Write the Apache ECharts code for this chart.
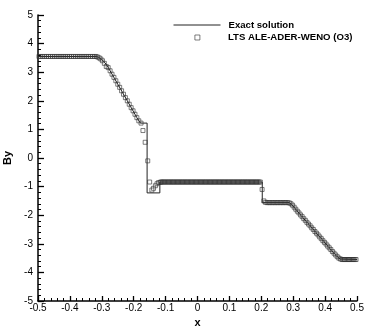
<!DOCTYPE html>
<html>
<head>
<meta charset="utf-8">
<script src="https://cdn.jsdelivr.net/npm/echarts@6/dist/echarts.min.js"></script>
<style>
html,body{margin:0;padding:0;background:#fff;}
#chart{width:374px;height:332px;}
</style>
</head>
<body>
<div id="chart"></div>
<script>
// Exact solution polyline (x, By)
var exactX = [-0.5, -0.318, -0.31, -0.30, -0.29, -0.28, -0.27, -0.26, -0.25, -0.24, -0.23, -0.22, -0.21, -0.20, -0.19, -0.179, -0.158, -0.158, -0.118, -0.118, 0.203, 0.203, 0.287, 0.295, 0.30, 0.31, 0.32, 0.33, 0.34, 0.35, 0.36, 0.37, 0.38, 0.39, 0.40, 0.41, 0.42, 0.43, 0.44, 0.447, 0.452, 0.5];
var exactY = [3.55, 3.55, 3.52, 3.44, 3.33, 3.17, 2.97, 2.78, 2.58, 2.39, 2.19, 2.00, 1.80, 1.61, 1.41, 1.22, 1.22, -1.22, -1.22, -0.84, -0.84, -1.56, -1.56, -1.62, -1.68, -1.82, -1.95, -2.08, -2.21, -2.33, -2.46, -2.59, -2.72, -2.84, -2.97, -3.10, -3.23, -3.36, -3.47, -3.53, -3.55, -3.55];

// Numerical solution (LTS ALE-ADER-WENO O3), cell centres
var numX = [
 -0.497, -0.491, -0.485, -0.479, -0.473, -0.467, -0.461, -0.455, -0.449, -0.443,
 -0.437, -0.431, -0.425, -0.419, -0.413, -0.407, -0.401, -0.395, -0.389, -0.383,
 -0.377, -0.371, -0.365, -0.359, -0.353, -0.347, -0.341, -0.335, -0.329, -0.323,
 -0.318, -0.313, -0.308, -0.303, -0.298, -0.292, -0.286, -0.280, -0.274, -0.268,
 -0.262, -0.256, -0.250, -0.244, -0.238, -0.232, -0.226, -0.220, -0.214, -0.208,
 -0.202, -0.196, -0.190, -0.184, -0.177, -0.171, -0.164, -0.156, -0.150, -0.143,
 -0.138, -0.132, -0.127, -0.122, -0.117, -0.114,
 -0.111, -0.107, -0.103, -0.099, -0.095, -0.091, -0.087, -0.083, -0.079, -0.075,
 -0.071, -0.067, -0.063, -0.059, -0.055, -0.051, -0.047, -0.043, -0.039, -0.035,
 -0.031, -0.027, -0.023, -0.019, -0.015, -0.011, -0.007, -0.003, 0.001, 0.005,
 0.009, 0.013, 0.017, 0.021, 0.025, 0.029, 0.033, 0.037, 0.041, 0.045,
 0.049, 0.053, 0.057, 0.061, 0.065, 0.069, 0.073, 0.077, 0.081, 0.085,
 0.089, 0.093, 0.097, 0.101, 0.105, 0.109, 0.113, 0.117, 0.121, 0.125,
 0.129, 0.133, 0.137, 0.141, 0.145, 0.149, 0.153, 0.157, 0.161, 0.165,
 0.169, 0.173, 0.177, 0.181, 0.185, 0.189, 0.193, 0.197,
 0.2025, 0.208, 0.213, 0.218, 0.223, 0.228, 0.233, 0.238, 0.243, 0.248,
 0.253, 0.258, 0.263, 0.268, 0.273, 0.278, 0.283,
 0.288, 0.293, 0.298, 0.303, 0.308, 0.313, 0.318, 0.323, 0.328, 0.333,
 0.338, 0.343, 0.348, 0.353, 0.358, 0.363, 0.368, 0.373, 0.378, 0.383,
 0.388, 0.393, 0.398, 0.403, 0.408, 0.413, 0.418, 0.423, 0.428, 0.433,
 0.438, 0.443, 0.448, 0.453,
 0.457, 0.461, 0.465, 0.469, 0.473, 0.477, 0.481, 0.485, 0.489, 0.493, 0.497
];
var numY = [
 3.55, 3.55, 3.55, 3.55, 3.55, 3.55, 3.55, 3.55, 3.55, 3.55,
 3.55, 3.55, 3.55, 3.55, 3.55, 3.55, 3.55, 3.55, 3.55, 3.55,
 3.55, 3.55, 3.55, 3.55, 3.55, 3.55, 3.55, 3.55, 3.55, 3.55,
 3.55, 3.53, 3.50, 3.46, 3.40, 3.31, 3.20, 3.16, 3.05, 2.93,
 2.82, 2.70, 2.58, 2.47, 2.35, 2.23, 2.11, 2.00, 1.88, 1.76,
 1.65, 1.53, 1.41, 1.30, 1.22, 0.96, 0.55, -0.10, -0.84, -1.12,
 -1.06, -0.97, -0.90, -0.86, -0.85, -0.84,
 -0.84, -0.84, -0.84, -0.84, -0.84, -0.84, -0.84, -0.84, -0.84, -0.84,
 -0.84, -0.84, -0.84, -0.84, -0.84, -0.84, -0.84, -0.84, -0.84, -0.84,
 -0.84, -0.84, -0.84, -0.84, -0.84, -0.84, -0.84, -0.84, -0.84, -0.84,
 -0.84, -0.84, -0.84, -0.84, -0.84, -0.84, -0.84, -0.84, -0.84, -0.84,
 -0.84, -0.84, -0.84, -0.84, -0.84, -0.84, -0.84, -0.84, -0.84, -0.84,
 -0.84, -0.84, -0.84, -0.84, -0.84, -0.84, -0.84, -0.84, -0.84, -0.84,
 -0.84, -0.84, -0.84, -0.84, -0.84, -0.84, -0.84, -0.84, -0.84, -0.84,
 -0.84, -0.84, -0.84, -0.84, -0.84, -0.84, -0.84, -0.84,
 -1.10, -1.50, -1.55, -1.56, -1.56, -1.56, -1.56, -1.56, -1.56, -1.56,
 -1.56, -1.56, -1.56, -1.56, -1.56, -1.56, -1.56,
 -1.57, -1.60, -1.65, -1.72, -1.79, -1.86, -1.92, -1.99, -2.05, -2.12,
 -2.18, -2.25, -2.31, -2.37, -2.44, -2.50, -2.57, -2.63, -2.69, -2.76,
 -2.82, -2.89, -2.95, -3.01, -3.08, -3.14, -3.20, -3.27, -3.33, -3.39,
 -3.45, -3.50, -3.53, -3.55,
 -3.55, -3.55, -3.55, -3.55, -3.55, -3.55, -3.55, -3.55, -3.55, -3.55, -3.55
];

var seriesNames = ['Exact solution', 'LTS ALE-ADER-WENO (O3)'];

var exactData = exactX.map(function (x, i) { return [x, exactY[i]]; });
var numData = numX.map(function (x, i) { return [x, numY[i]]; });

var FONT = 'Liberation Sans, Arial, Helvetica, sans-serif';
var legendText = {fontFamily: FONT, fontSize: 9.6, fontWeight: 'bold', color: '#000'};

var chart = echarts.init(document.getElementById('chart'), null, {renderer: 'canvas'});
chart.setOption({
  animation: false,
  backgroundColor: '#fff',
  grid: {left: 38, right: 17, top: 15, bottom: 31, containLabel: false, outerBoundsMode: 'none'},
  legend: [
    {
      orient: 'vertical',
      left: 173,
      top: 20,
      itemWidth: 47,
      itemHeight: 2,
      padding: 0,
      selectedMode: false,
      textStyle: Object.assign({padding: [0, 0, 0, 3]}, legendText),
      data: [{name: seriesNames[0], itemStyle: {opacity: 0}, lineStyle: {width: 1, color: '#222'}}]
    },
    {
      orient: 'vertical',
      left: 194.5,
      top: 32.5,
      itemWidth: 5,
      itemHeight: 5,
      padding: 0,
      selectedMode: false,
      textStyle: Object.assign({padding: [0, 0, 0, 23]}, legendText),
      data: [{name: seriesNames[1], icon: 'rect', itemStyle: {color: 'rgba(255,255,255,0)', borderColor: '#333', borderWidth: 0.8}}]
    }
  ],
  xAxis: {
    type: 'value',
    min: -0.5, max: 0.5, interval: 0.1,
    name: 'x',
    nameLocation: 'middle',
    nameGap: 14,
    nameTextStyle: {fontFamily: FONT, fontSize: 11, fontWeight: 'bold', color: '#000'},
    axisLine: {show: true, onZero: false, lineStyle: {color: '#000', width: 1.5}},
    axisTick: {show: true, inside: true, length: 5, lineStyle: {color: '#000', width: 1.3}},
    minorTick: {show: true, splitNumber: 5, length: 3, lineStyle: {color: '#000', width: 1}},
    splitLine: {show: false},
    axisLabel: {fontFamily: FONT, fontSize: 10, color: '#000', margin: 2, showMinLabel: true, showMaxLabel: true}
  },
  yAxis: {
    type: 'value',
    min: -5, max: 5, interval: 1,
    name: 'By',
    nameLocation: 'middle',
    nameGap: 22,
    nameRotate: 90,
    nameTextStyle: {fontFamily: FONT, fontSize: 11, fontWeight: 'bold', color: '#000'},
    axisLine: {show: true, onZero: false, lineStyle: {color: '#000', width: 1.5}},
    axisTick: {show: true, inside: true, length: 6, lineStyle: {color: '#000', width: 1.3}},
    minorTick: {show: true, splitNumber: 5, length: 3, lineStyle: {color: '#000', width: 1}},
    splitLine: {show: false},
    axisLabel: {fontFamily: FONT, fontSize: 10, color: '#000', margin: 5}
  },
  series: [
    {
      name: seriesNames[0],
      type: 'line',
      data: exactData,
      symbol: 'none',
      lineStyle: {color: '#222', width: 1},
      itemStyle: {color: '#222'},
      z: 2
    },
    {
      name: seriesNames[1],
      type: 'scatter',
      data: numData,
      symbol: 'rect',
      symbolSize: 4,
      itemStyle: {color: 'rgba(255,255,255,0)', borderColor: '#333', borderWidth: 0.8},
      z: 3
    }
  ]
});
</script>
</body>
</html>
